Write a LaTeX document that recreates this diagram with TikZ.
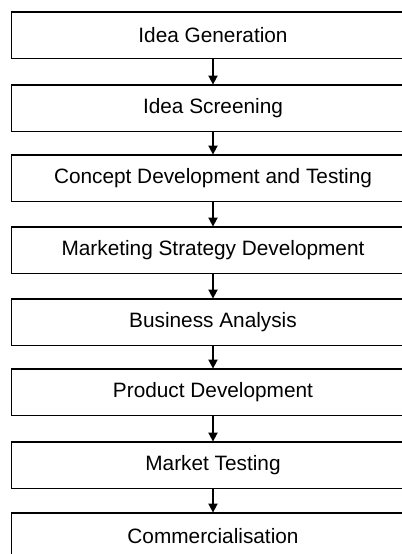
\documentclass[tikz,border=0pt]{standalone}
\usepackage{fontspec}
\setmainfont{Liberation Sans}
\usetikzlibrary{arrows.meta}
\tikzset{
  stage/.style={minimum width=201pt, minimum height=23pt,
    inner sep=0pt, font=\fontsize{10.4}{12}\selectfont},
  rim/.style={line width=0.9pt},
  flow/.style={-{Triangle[length=4.5pt,width=4.5pt]}, line width=0.9pt}
}
\begin{document}
\begin{tikzpicture}[x=0.5pt,y=0.5pt]
	\useasboundingbox (0,0) rectangle (402,554);
	\draw (213,519) node[stage] (G) {Idea Generation};
	\draw (213,446) node[stage] (S) {Idea Screening};
	\draw (213,376) node[stage] (C) {Concept Development and Testing};
	\draw (213,304) node[stage] (M) {Marketing Strategy Development};
	\draw (213,232) node[stage] (B) {Business Analysis};
	\draw (213,162) node[stage] (P) {Product Development};
	\draw (213,89) node[stage] (T) {Market Testing};
	\draw (213,18) node[stage] (K) {Commercialisation};
	% boxes are open on the right
	\foreach \n in {G,S,C,M,B,P,T,K}
		\draw[rim] (\n.north east) -| (\n.south west) -- (\n.south east);
	\draw[flow] (G) -- (S);
	\draw[flow] (S) -- (C);
	\draw[flow] (C) -- (M);
	\draw[flow] (M) -- (B);
	\draw[flow] (B) -- (P);
	\draw[flow] (P) -- (T);
	\draw[flow] (T) -- (K);
\end{tikzpicture}
\end{document}
